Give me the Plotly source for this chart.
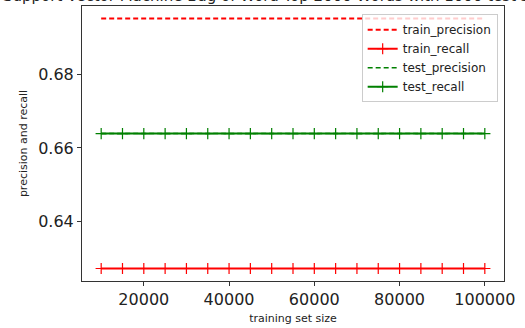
import plotly.graph_objects as go

train_sizes = [10000, 15000, 20000, 25000, 30000, 35000, 40000, 45000, 50000, 55000,
               60000, 65000, 70000, 75000, 80000, 85000, 90000, 95000, 100000]
train_precision = [0.6952] * 19
train_recall = [0.6272] * 19
test_precision = [0.6639] * 19
test_recall = [0.6639] * 19

title_text = "Support Vector Machine Bag of Word Top 2000 Words with 1000 test samples"
x_ticks = [20000, 40000, 60000, 80000, 100000]
y_ticks = [0.64, 0.66, 0.68]

FONT = "DejaVu Sans"
fig = go.Figure()
fig.add_trace(go.Scatter(x=train_sizes, y=train_precision, mode="lines", name="train_precision",
                         line=dict(color="#ff0000", width=1.8, dash="5px,3px")))
fig.add_trace(go.Scatter(x=train_sizes, y=train_recall, mode="lines+markers", name="train_recall",
                         line=dict(color="#ff0000", width=1.8),
                         marker=dict(symbol="cross-thin", size=8, line=dict(color="#ff0000", width=1.2))))
fig.add_trace(go.Scatter(x=train_sizes, y=test_precision, mode="lines", name="test_precision",
                         line=dict(color="#008000", width=1.4, dash="5px,3px")))
fig.add_trace(go.Scatter(x=train_sizes, y=test_recall, mode="lines+markers", name="test_recall",
                         line=dict(color="#008000", width=2),
                         marker=dict(symbol="cross-thin", size=8, line=dict(color="#008000", width=1.2))))

axis_common = dict(showline=True, linecolor="#333", linewidth=1, mirror=True, showgrid=False,
                   zeroline=False, ticks="outside", ticklen=4, tickcolor="#333",
                   tickfont=dict(family=FONT, size=16, color="#222"))
fig.update_xaxes(range=[5500, 104500], tickvals=x_ticks, ticktext=[str(v) for v in x_ticks],
                 title=dict(text="training set size", font=dict(family=FONT, size=11, color="#222"), standoff=6),
                 **axis_common)
fig.update_yaxes(range=[0.6238, 0.6986], tickvals=y_ticks, ticktext=[f"{v:.2f}" for v in y_ticks],
                 title=dict(text="precision and recall", font=dict(family=FONT, size=11, color="#222"), standoff=8),
                 **axis_common)

fig.add_annotation(text=title_text, xref="paper", yref="paper", x=0.5, y=1, xanchor="center",
                   yanchor="bottom", yshift=-1, showarrow=False,
                   font=dict(family=FONT, size=15, color="#222"))

fig.update_layout(
    width=525, height=328, margin=dict(l=82, r=21, t=5, b=45),
    plot_bgcolor="white", paper_bgcolor="white", showlegend=True,
    legend=dict(x=0.985, y=0.97, xanchor="right", yanchor="top", bgcolor="rgba(255,255,255,0.8)",
                bordercolor="#ccc", borderwidth=1, font=dict(family=FONT, size=12, color="#222"),
                tracegroupgap=0, itemwidth=30),
)
fig.write_html("out.html")
